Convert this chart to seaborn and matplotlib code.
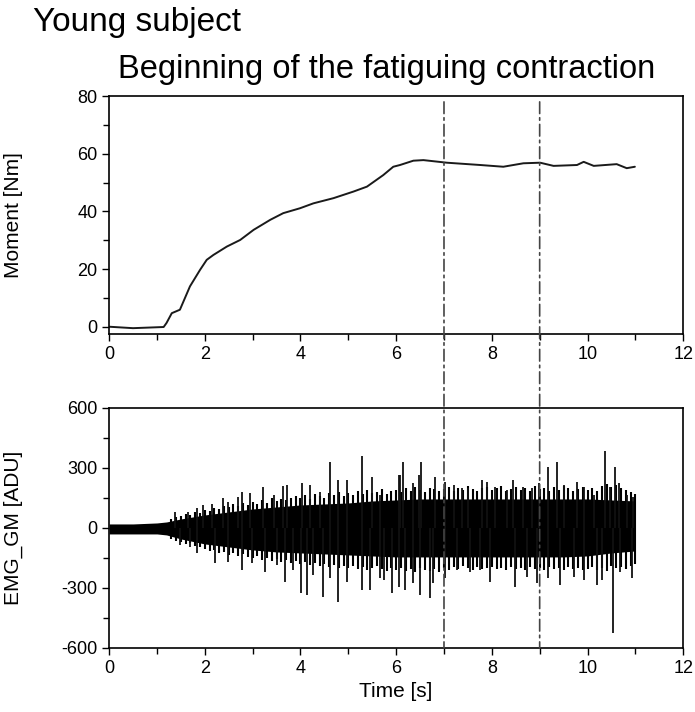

# Imports
import numpy as np
import pandas as pd
import seaborn as sns
import matplotlib.pyplot as plt
from matplotlib.ticker import MultipleLocator
from matplotlib.patches import ConnectionPatch

# Moment trace
moment_t = [0.0, 0.5, 1.14, 1.2, 1.31, 1.48, 1.69, 1.90, 2.04, 2.18, 2.46, 2.74, 3.02,
            3.37, 3.64, 3.99, 4.27, 4.69, 5.11, 5.39, 5.73, 5.94, 6.08, 6.36, 6.57,
            7.06, 7.76, 8.24, 8.66, 9.01, 9.29, 9.78, 9.92, 10.13, 10.61, 10.82, 10.99]
moment_v = [0.0, -0.5, -0.1, 1.3, 4.7, 5.9, 14.0, 19.7, 23.2, 24.9, 27.8, 30.1, 33.6,
            37.1, 39.4, 41.1, 42.8, 44.6, 46.9, 48.6, 52.6, 55.5, 56.1, 57.6, 57.8,
            56.9, 56.1, 55.5, 56.7, 56.9, 55.8, 56.1, 57.2, 55.8, 56.4, 55.0, 55.5]

# EMG dense core envelope
core_t = [0, 0.5, 1.0, 1.2, 1.5, 2.0, 2.5, 3.0, 3.5, 4.0, 4.5, 5.0, 5.5, 6.0,
          6.5, 7.0, 7.5, 8.0, 8.5, 9.0, 9.5, 10.0, 10.5, 11.0]
core_hi = [20, 20, 25, 30, 45, 65, 80, 95, 105, 115, 120, 125, 135, 140,
           145, 145, 145, 145, 145, 145, 145, 145, 140, 135]
core_lo = [-30, -30, -30, -35, -55, -80, -95, -110, -120, -125, -130, -135, -140, -145,
           -145, -145, -145, -145, -145, -145, -145, -140, -125, -115]

# EMG ragged edge of the band (every 0.1 s from 1.3 s)
edge_t = [round(1.3 + 0.1 * i, 1) for i in range(98)]
edge_hi = [45, 55, 60, 70, 65, 80, 75,
           90, 85, 100, 95, 110, 105, 120, 110, 125, 115,
           130, 120, 140, 125, 150, 135, 145, 140, 150, 160,
           150, 165, 145, 170, 160, 150, 175, 165, 180, 160,
           175, 165, 185, 170, 190, 175, 180, 195, 170, 185,
           190, 180, 200, 185, 205, 190, 180, 200, 195, 185,
           195, 205, 185, 200, 190, 210, 195, 185, 200, 205,
           190, 200, 210, 185, 195, 205, 190, 200, 185, 210,
           195, 200, 185, 205, 190, 210, 200, 185, 195, 205,
           190, 200, 185, 210, 220, 205, 215, 200, 190, 180,
           170]
edge_lo = [-55, -65, -70, -80, -75, -90, -95,
           -105, -115, -110, -125, -120, -135, -125, -140, -130, -145,
           -150, -140, -160, -150, -165, -155, -170, -160, -175, -165,
           -180, -170, -185, -175, -190, -180, -195, -185, -200, -190,
           -200, -190, -205, -195, -210, -200, -190, -205, -215, -200,
           -210, -200, -215, -205, -220, -200, -210, -215, -205, -220,
           -200, -210, -195, -205, -190, -200, -210, -195, -205, -200,
           -195, -205, -200, -210, -195, -205, -200, -210, -195, -205,
           -200, -210, -195, -205, -200, -210, -195, -205, -200, -210,
           -205, -195, -210, -200, -215, -190, -200, -195, -205, -190,
           -180]

# EMG prominent spikes
spike_t = [1.38, 1.64, 1.83, 1.97, 2.15, 2.39, 2.49, 2.70, 2.77, 2.95, 3.21, 3.44, 3.64,
           3.72, 4.03, 4.20, 4.41, 4.62, 4.79, 4.97, 5.28, 5.49, 5.67, 6.05, 6.08, 6.15,
           6.36, 6.47, 6.52, 6.82, 7.02, 7.20, 7.37, 7.51, 7.79, 7.90, 8.07, 8.32, 8.44,
           8.66, 8.84, 8.98, 9.18, 9.36, 9.50, 9.78, 9.92, 10.13, 10.36, 10.47, 10.57,
           10.65, 10.82, 10.96,
           1.48, 1.69, 1.83, 2.22, 2.49, 2.77, 2.98, 3.26, 3.51, 3.68, 3.85, 4.01, 4.13,
           4.27, 4.48, 4.62, 4.79, 4.97, 5.28, 5.46, 5.67, 5.74, 5.91, 6.05, 6.19, 6.35,
           6.50, 6.70, 6.78, 7.02, 7.27, 7.55, 7.76, 7.97, 8.49, 8.73, 8.94, 9.18, 9.43,
           9.71, 9.92, 10.20, 10.30, 10.54, 10.68, 10.93]
spike_v = [82, 80, 98, 113, 120, 148, 132, 157, 182, 173, 207, 165, 210,
           215, 227, 215, 182, 332, 240, 240, 360, 257, 165, 265, 265, 332,
           223, 265, 332, 257, 232, 215, 198, 198, 240, 232, 207, 190, 240,
           207, 198, 223, 307, 332, 215, 232, 207, 165, 387, 207, 307,
           223, 165, 157,
           -85, -93, -127, -177, -168, -210, -177, -218, -185, -268, -210, -327, -335,
           -235, -343, -252, -368, -268, -310, -310, -252, -260, -327, -293, -310, -277,
           -335, -352, -277, -252, -210, -218, -210, -268, -293, -243, -277, -252, -285,
           -243, -260, -285, -260, -527, -218, -252]

marker_t = [7, 9]

moment = pd.DataFrame({"t": moment_t, "v": moment_v})

sns.set_theme(style="ticks")
plt.rcParams['font.family'] = ['Liberation Sans', 'DejaVu Sans']
plt.rcParams['axes.unicode_minus'] = False
plt.rcParams['text.color'] = 'black'
plt.rcParams['axes.labelcolor'] = 'black'
plt.rcParams['xtick.color'] = 'black'
plt.rcParams['ytick.color'] = 'black'

fig = plt.figure(figsize=(6.95, 7.12), dpi=100)
ax1 = fig.add_axes([0.157, 0.531, 0.826, 0.334])
ax2 = fig.add_axes([0.157, 0.090, 0.826, 0.337])

# Top panel: moment
sns.lineplot(data=moment, x="t", y="v", ax=ax1, color="#1a1a1a", linewidth=1.4)
ax1.set_ylim(-2.5, 80)
ax1.set_yticks([0, 20, 40, 60, 80])
ax1.yaxis.set_minor_locator(MultipleLocator(10))
ax1.set_ylabel("Moment [Nm]", fontsize=15)
ax1.set_xlabel("")

# Bottom panel: EMG
ax2.fill_between(core_t, core_lo, core_hi, color="black", linewidth=0)
ax2.vlines(edge_t, edge_lo, edge_hi, color="black", linewidth=1.5)
ax2.vlines(spike_t, 0, spike_v, color="#111111", linewidth=1.3)
ax2.set_ylim(-600, 600)
ax2.set_yticks([-600, -300, 0, 300, 600])
ax2.yaxis.set_minor_locator(MultipleLocator(150))
ax2.set_ylabel("EMG_GM [ADU]", fontsize=15)
ax2.set_xlabel("Time [s]", fontsize=15)

for ax in (ax1, ax2):
    ax.set_xlim(0, 12)
    ax.set_xticks(range(0, 13, 2))
    ax.xaxis.set_minor_locator(MultipleLocator(1))
    ax.tick_params(which="both", direction="out", labelsize=13, width=1.0, color="black")
    ax.tick_params(which="major", length=5)
    ax.tick_params(which="minor", length=4)
    for s in ax.spines.values():
        s.set_linewidth(1.2)
        s.set_color("black")
        s.set_visible(True)
    ax.yaxis.set_label_coords(-0.15, 0.5)

# Dash-dot markers running through both panels
for t in marker_t:
    con = ConnectionPatch(xyA=(t, 78), coordsA=ax1.transData,
                          xyB=(t, -600), coordsB=ax2.transData,
                          color="#444444", linewidth=1.2,
                          linestyle=(0, (7, 2.5, 1.5, 2.5)))
    fig.add_artist(con)

fig.text(0.047, 0.969, "Young subject", fontsize=24, va="center")
fig.text(0.170, 0.902, "Beginning of the fatiguing contraction", fontsize=23.5, va="center")

plt.savefig("out.png", dpi=100)
